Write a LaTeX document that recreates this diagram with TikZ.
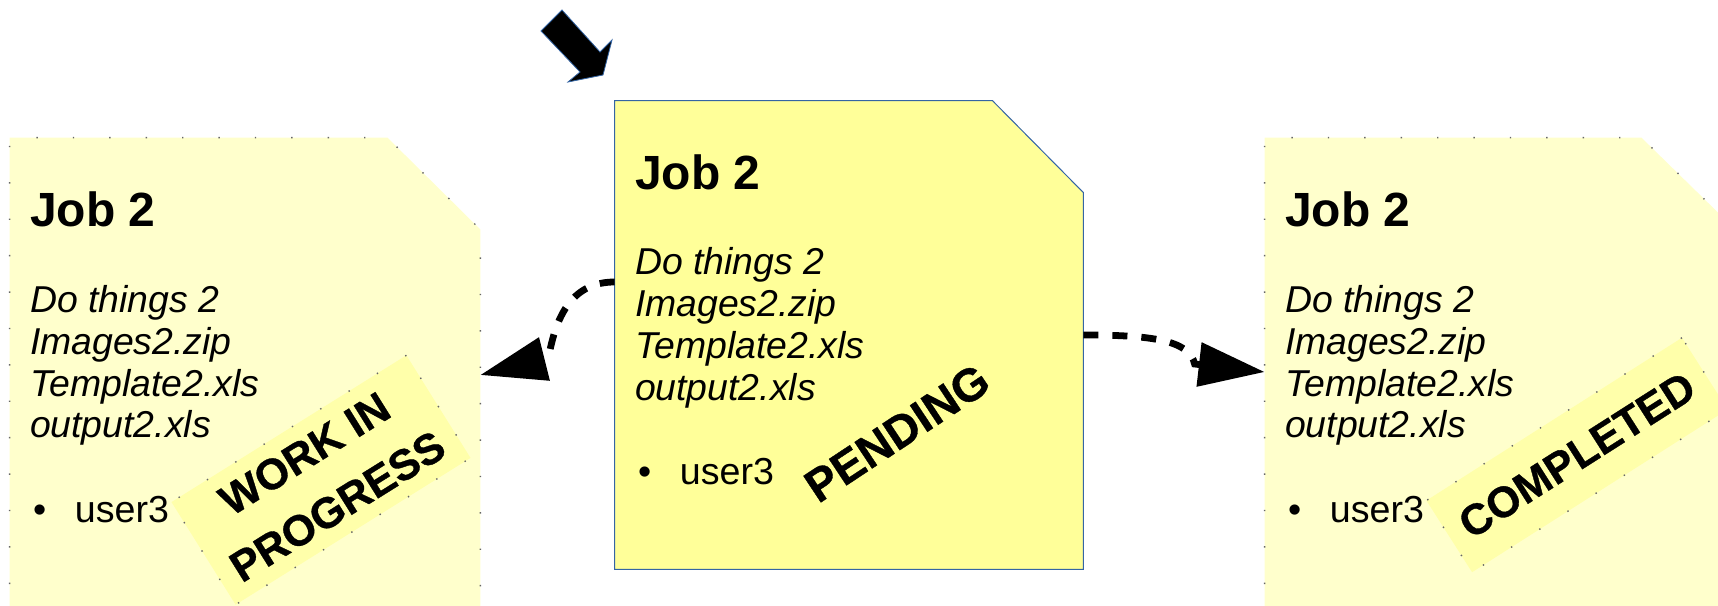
\documentclass[tikz,border=0pt]{standalone}
\usepackage{fontspec}
\setmainfont{Liberation Sans}
\newfontfamily\stampfont{Liberation Sans Bold}[FakeBold=0.8]
\usepackage{xcolor}
\usetikzlibrary{arrows, arrows.meta}
\usetikzlibrary{calc}

\definecolor{paleyellow}{RGB}{255,255,204}
\definecolor{stampyellow}{RGB}{255,255,170}
\definecolor{pendyellow}{RGB}{255,255,153}
\definecolor{pendblue}{RGB}{52,101,164}

\begin{document}
\begin{tikzpicture}[x=0.5pt, y=0.5pt,
    cardbox/.style={rectangle, inner sep=0pt, minimum width=235pt, minimum height=241pt},
    palecard/.style={fill=paleyellow, draw=black!60, line width=0.7pt, dash pattern=on 0.7pt off 17.5pt},
    pendcard/.style={fill=pendyellow, draw=pendblue, line width=0.5pt},
    jobtitle/.style={anchor=base west, inner sep=0pt, font=\fontsize{24}{28}\selectfont\bfseries},
    jobline/.style={anchor=base west, inner sep=0pt, font=\fontsize{18.7}{21}\selectfont\itshape},
    jobuser/.style={anchor=base west, inner sep=0pt, font=\fontsize{18.8}{21}\selectfont},
    stamp/.style={fill=stampyellow, draw=black!60, line width=0.7pt, dash pattern=on 0.7pt off 16pt,
      align=center, inner sep=0pt, font=\fontsize{21.5}{31}\stampfont},
    pendstamp/.style={inner sep=0pt, font=\fontsize{23}{28}\stampfont},
    flow/.style={line width=3.4pt, dash pattern=on 7.5pt off 7pt, -{Triangle[length=33pt, width=21.5pt]}}
  ]
  \useasboundingbox (0,0) rectangle (1718,605);

  % the three cards, corner cut at the top right
  \node[cardbox] (wip) at (245,226) {};
  \node[cardbox, minimum width=234pt, minimum height=234pt] (pend) at (849,270) {};
  \node[cardbox] (done) at (1500,226) {};
  \filldraw[palecard] (wip.south west) -- (wip.north west) -- ([xshift=-46.5pt]wip.north east) -- ([yshift=-46pt]wip.north east) -- (wip.south east) -- cycle;
  \filldraw[pendcard] (pend.south west) -- (pend.north west) -- ([xshift=-45.5pt]pend.north east) -- ([yshift=-46pt]pend.north east) -- (pend.south east) -- cycle;
  \filldraw[palecard] (done.south west) -- (done.north west) -- ([xshift=-47pt]done.north east) -- ([yshift=-46pt]done.north east) -- (done.south east) -- cycle;

  % work in progress
  \node[jobtitle] (wiptitle) at ($(wip.north west)+(20,-89)$) {Job 2};
  \node[jobline] (wipa) at ($(wip.north west)+(20,-175)$) {Do things 2};
  \node[jobline] (wipb) at ($(wip.north west)+(20,-217)$) {Images2.zip};
  \node[jobline] (wipc) at ($(wip.north west)+(20,-259)$) {Template2.xls};
  \node[jobline] (wipd) at ($(wip.north west)+(20,-300)$) {output2.xls};
  \node[jobuser] (wipuser) at ($(wip.north west)+(23,-385)$) {\makebox[21pt][l]{•}user3};
  \node[stamp, rotate=32, minimum width=138.5pt, minimum height=60.5pt] (wipmark) at (321,125) {WORK IN\\PROGRESS};

  % pending
  \node[jobtitle] (pendtitle) at ($(pend.north west)+(20,-89)$) {Job 2};
  \node[jobline] (penda) at ($(pend.north west)+(20,-174)$) {Do things 2};
  \node[jobline] (pendb) at ($(pend.north west)+(20,-216)$) {Images2.zip};
  \node[jobline] (pendc) at ($(pend.north west)+(20,-258)$) {Template2.xls};
  \node[jobline] (pendd) at ($(pend.north west)+(20,-300)$) {output2.xls};
  \node[jobuser] (penduser) at ($(pend.north west)+(23,-384)$) {\makebox[21pt][l]{•}user3};
  \node[pendstamp, rotate=33.5] (pendmark) at (897,172) {PENDING};

  % completed
  \node[jobtitle] (donetitle) at ($(done.north west)+(20,-89)$) {Job 2};
  \node[jobline] (donea) at ($(done.north west)+(20,-175)$) {Do things 2};
  \node[jobline] (doneb) at ($(done.north west)+(20,-217)$) {Images2.zip};
  \node[jobline] (donec) at ($(done.north west)+(20,-259)$) {Template2.xls};
  \node[jobline] (doned) at ($(done.north west)+(20,-300)$) {output2.xls};
  \node[jobuser] (doneuser) at ($(done.north west)+(23,-385)$) {\makebox[21pt][l]{•}user3};
  \node[stamp, rotate=32.5, minimum width=151.5pt, minimum height=42.5pt] (donemark) at (1577,150) {COMPLETED};

  % incoming job
  \filldraw[fill=black, draw=pendblue, line width=0.4pt] (562,595) -- (600,553) -- (612,565) -- (603,530) -- (568,523) -- (580,533) -- (541,574) -- cycle;

  \draw[flow] ([yshift=26.5pt]pend.west) .. controls ($(pend.west)+(-45,53)$) and ($(wip.east)+(75,59)$) .. ($(wip.east)+(68,21)$) -- ([yshift=2pt]wip.east);
  \draw[flow] (pend.east) .. controls ($(pend.east)+(67,0)$) and ($(done.west)+(-75,39)$) .. ($(done.west)+(-70,15)$) -- ([yshift=3.5pt]done.west);
\end{tikzpicture}
\end{document}
